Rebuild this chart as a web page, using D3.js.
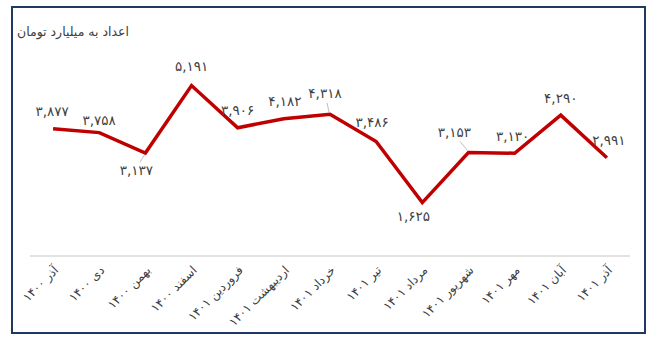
<!DOCTYPE html>
<html><head><meta charset="utf-8">
<script src="https://cdn.jsdelivr.net/npm/d3@7"></script>
<style>body{margin:0;background:#fff}svg{display:block}text{font-family:"DejaVu Sans",sans-serif}</style>
</head><body>
<svg id="c" width="653" height="345"></svg>
<script>
const categories = ["آذر ۱۴۰۰","دی ۱۴۰۰","بهمن ۱۴۰۰","اسفند ۱۴۰۰","فروردین ۱۴۰۱","اردیبهشت ۱۴۰۱","خرداد ۱۴۰۱","تیر ۱۴۰۱","مرداد ۱۴۰۱","شهریور ۱۴۰۱","مهر ۱۴۰۱","آبان ۱۴۰۱","آذر ۱۴۰۱"];
const values = [3877,3758,3137,5191,3906,4182,4318,3486,1625,3153,3130,4290,2991];
const title = "اعداد به میلیارد تومان";
// label placement (dx, dy from point) and whether a leader line is drawn
const labelOffsets = [[-1,-17],[0,-12],[-9,17],[0,-19],[0,-17],[1,-17],[-5,-21],[-4,-19],[-9,14],[-14,-20],[-2,-17],[0,-17],[2,-18]];
const leaders = [false,false,true,false,false,false,true,false,false,true,false,false,false];

const svg = d3.select("#c");
const fa = n => d3.format(",")(n).replace(/\d/g, d => "۰۱۲۳۴۵۶۷۸۹"[+d]);

svg.append("rect").attr("x",12).attr("y",7).attr("width",633).attr("height",326)
  .attr("fill","#fff").attr("stroke","#1f3864").attr("stroke-width",2);

svg.append("text").attr("x",129).attr("y",36).attr("text-anchor","end")
  .attr("font-size",12.5).attr("fill","#404040").text(title);

const x = d3.scaleBand().domain(categories).range([30,630]);
const y = d3.scaleLinear().domain([0,6000]).range([256,59]);

svg.append("line").attr("x1",30).attr("x2",630).attr("y1",y(0)).attr("y2",y(0))
  .attr("stroke","#d9d9d9").attr("stroke-width",1.5);

const cx = d => x(d) + x.bandwidth()/2;

svg.selectAll("text.xl").data(categories).enter().append("text").attr("class","xl")
  .attr("transform", d => `translate(${cx(d)+6},${y(0)+15}) rotate(-45)`)
  .attr("text-anchor","end").attr("font-size",12).attr("fill","#404040").text(d => d);

const line = d3.line().x((d,i) => cx(categories[i])).y(d => y(d));
svg.append("path").datum(values).attr("d", line).attr("fill","none")
  .attr("stroke","#c00000").attr("stroke-width",3.5).attr("stroke-linejoin","miter");

values.forEach((v,i) => {
  const px = cx(categories[i]), py = y(v);
  const [dx,dy] = labelOffsets[i];
  if (leaders[i]) {
    svg.append("line").attr("x1",px-1).attr("y1",py + (dy>0?2:-2))
      .attr("x2",px+dx*0.6).attr("y2",py+dy*0.55)
      .attr("stroke","#bfbfbf").attr("stroke-width",1);
  }
  svg.append("text").attr("x",px+dx).attr("y",py+dy).attr("dy","0.35em")
    .attr("text-anchor","middle").attr("font-size",13.5).attr("fill","#404040").text(fa(v));
});
</script>
</body></html>
